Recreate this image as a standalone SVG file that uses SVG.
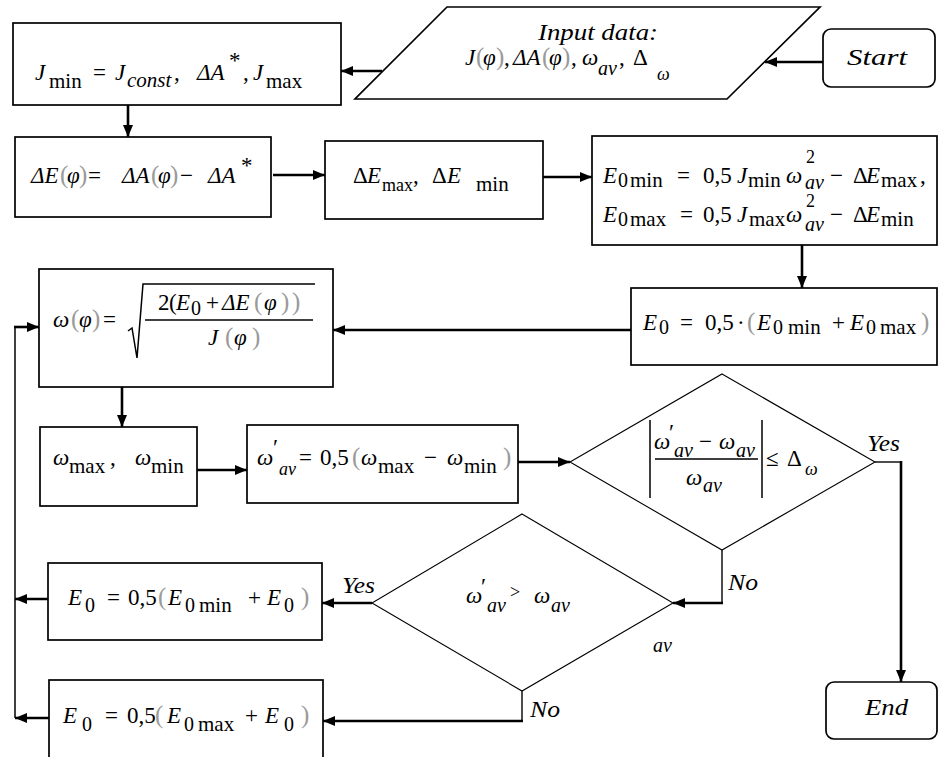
<svg xmlns="http://www.w3.org/2000/svg" width="940" height="757" viewBox="0 0 940 757">
<style>
.b{fill:#fff;stroke:#000;stroke-width:1.7}
.d{fill:#fff;stroke:#000;stroke-width:1.1}
.c{fill:none;stroke:#000;stroke-width:2.6}
.n{fill:none;stroke:#000;stroke-width:1.4}
.m{fill:none;stroke:#000;stroke-width:1.5}
.t{font-family:'Liberation Serif','Times New Roman',serif;font-size:23px;fill:#000}
.i{font-style:italic}
.s{font-size:20px}
.u{font-size:21px}
.z{font-size:18px}
.g{fill:#9a9a9a;font-size:25px}
</style>
<defs>
<marker id="a" viewBox="0 0 12 10" refX="12" refY="5" markerWidth="12" markerHeight="10" markerUnits="userSpaceOnUse" orient="auto"><path d="M0,0 L12,5 L0,10 z" fill="#000"/></marker>
</defs>
<rect width="940" height="757" fill="#fff"/>

<g id="connectors">
<path class="c" d="M382,71 H341" marker-end="url(#a)"/>
<path class="c" d="M823,62 H765" marker-end="url(#a)"/>
<path class="c" d="M128,105 V137" marker-end="url(#a)"/>
<path class="c" d="M273,175 H325" marker-end="url(#a)"/>
<path class="c" d="M543,177 H592" marker-end="url(#a)"/>
<path class="c" d="M802,245 V288" marker-end="url(#a)"/>
<path class="c" d="M631,330 H333" marker-end="url(#a)"/>
<path class="c" d="M122,387 V427" marker-end="url(#a)"/>
<path class="c" d="M197,470 H247" marker-end="url(#a)"/>
<path class="c" d="M518,462 H570" marker-end="url(#a)"/>
<path class="n" d="M875,462 H901"/>
<path class="c" d="M901,461 V682" marker-end="url(#a)"/>
<path class="n" d="M722,550 V603"/>
<path class="c" d="M723,603 H673" marker-end="url(#a)"/>
<path class="c" d="M372,603 H322" marker-end="url(#a)"/>
<path class="n" d="M522,691 V721"/>
<path class="c" d="M523,721 H323" marker-end="url(#a)"/>
<path class="c" d="M48,599 H15" marker-end="url(#a)"/>
<path class="c" d="M49,718 H15" marker-end="url(#a)"/>
<path class="m" d="M15,718 V327"/>
<path class="c" d="M14,327 H39" marker-end="url(#a)"/>
</g>

<g id="start">
<rect class="b" x="823" y="29" width="112" height="58" rx="8"/>
<text class="t i" x="847" y="65" textLength="60" lengthAdjust="spacingAndGlyphs">Start</text>
</g>

<g id="input">
<polygon class="b" points="447,7 820,7 727,99 355,99"/>
<text class="t i" x="538" y="40" textLength="120" lengthAdjust="spacingAndGlyphs">Input data:</text>
<text class="t"><tspan class="i" x="465" y="65">J</tspan><tspan class="g" x="476" y="65">(</tspan><tspan class="i" x="483" y="65">φ</tspan><tspan class="g" x="496" y="65">)</tspan><tspan x="504" y="65">,</tspan><tspan class="i" x="513" y="65">ΔA</tspan><tspan class="g" x="542" y="65">(</tspan><tspan class="i" x="549" y="65">φ</tspan><tspan class="g" x="562" y="65">)</tspan><tspan x="571" y="65">,</tspan><tspan class="i" x="582" y="65">ω</tspan><tspan class="i s" x="598" y="75">av</tspan><tspan x="619" y="65">,</tspan><tspan x="633" y="65">Δ</tspan><tspan class="i z" x="657" y="80">ω</tspan></text>
</g>

<g id="init">
<rect class="b" x="13" y="23" width="328" height="82"/>
<text class="t"><tspan class="i" x="35" y="80">J</tspan><tspan class="u" x="49" y="88">min</tspan><tspan x="93" y="80">=</tspan><tspan class="i" x="115" y="80">J</tspan><tspan class="i u" x="127" y="87">const</tspan><tspan x="174" y="80">,</tspan><tspan class="i" x="197" y="80">ΔA</tspan><tspan x="229" y="68">*</tspan><tspan x="243" y="80">,</tspan><tspan class="i" x="253" y="80">J</tspan><tspan class="u" x="266" y="88">max</tspan></text>
</g>

<g id="deltaE">
<rect class="b" x="15" y="137" width="256" height="80"/>
<text class="t"><tspan class="i" x="31" y="183">ΔE</tspan><tspan class="g" x="60" y="183">(</tspan><tspan class="i" x="67" y="183">φ</tspan><tspan class="g" x="79" y="183">)</tspan><tspan x="88" y="183">=</tspan><tspan class="i" x="122" y="183">ΔA</tspan><tspan class="g" x="151" y="183">(</tspan><tspan class="i" x="158" y="183">φ</tspan><tspan class="g" x="170" y="183">)</tspan><tspan x="180" y="183">−</tspan><tspan class="i" x="208" y="183">ΔA</tspan><tspan x="241" y="173">*</tspan></text>
</g>

<g id="extremes">
<rect class="b" x="325" y="141" width="218" height="78"/>
<text class="t"><tspan x="353" y="183">Δ</tspan><tspan class="i" x="367" y="183">E</tspan><tspan class="z" x="382" y="191">max</tspan><tspan x="413" y="183">,</tspan><tspan x="432" y="183">Δ</tspan><tspan class="i" x="447" y="183">E</tspan><tspan class="u" x="476" y="191">min</tspan></text>
</g>

<g id="e0bounds">
<rect class="b" x="592" y="136" width="345" height="109"/>
<text class="t"><tspan class="i" x="603" y="183">E</tspan><tspan class="s" x="618" y="187">0</tspan><tspan class="u" x="630" y="187">min</tspan><tspan x="677" y="183">=</tspan><tspan x="703" y="183">0,5</tspan><tspan class="i" x="737" y="183">J</tspan><tspan class="u" x="748" y="187">min</tspan><tspan class="i" x="786" y="183">ω</tspan><tspan class="z" x="806" y="163">2</tspan><tspan class="i s" x="805" y="189">av</tspan><tspan x="830" y="183">−</tspan><tspan x="853" y="183">Δ</tspan><tspan class="i" x="866" y="183">E</tspan><tspan class="u" x="881" y="187">max</tspan><tspan x="920" y="183">,</tspan></text>
<text class="t"><tspan class="i" x="603" y="222">E</tspan><tspan class="s" x="618" y="226">0</tspan><tspan class="u" x="630" y="226">max</tspan><tspan x="680" y="222">=</tspan><tspan x="703" y="222">0,5</tspan><tspan class="i" x="737" y="222">J</tspan><tspan class="u" x="749" y="226">max</tspan><tspan class="i" x="786" y="222">ω</tspan><tspan class="z" x="806" y="207">2</tspan><tspan class="i s" x="805" y="231">av</tspan><tspan x="830" y="222">−</tspan><tspan x="853" y="222">Δ</tspan><tspan class="i" x="866" y="222">E</tspan><tspan class="u" x="881" y="226">min</tspan></text>
</g>

<g id="e0">
<rect class="b" x="631" y="288" width="306" height="77"/>
<text class="t"><tspan class="i" x="643" y="330">E</tspan><tspan class="s" x="659" y="334">0</tspan><tspan x="680" y="330">=</tspan><tspan x="705" y="330">0,5</tspan><tspan x="737" y="330">·</tspan><tspan class="g" x="747" y="330">(</tspan><tspan class="i" x="757" y="330">E</tspan><tspan class="s" x="773" y="334">0</tspan><tspan class="u" x="788" y="334">min</tspan><tspan x="832" y="330">+</tspan><tspan class="i" x="850" y="330">E</tspan><tspan class="s" x="866" y="334">0</tspan><tspan class="u" x="880" y="334">max</tspan><tspan class="g" x="921" y="330">)</tspan></text>
</g>

<g id="omega">
<rect class="b" x="39" y="269" width="294" height="118"/>
<text class="t"><tspan class="i" x="53" y="327">ω</tspan><tspan class="g" x="71" y="327">(</tspan><tspan class="i" x="79" y="327">φ</tspan><tspan class="g" x="92" y="327">)</tspan><tspan x="103" y="327">=</tspan></text>
<path class="m" d="M128,331 L132,328 L137,358 L143,284 H315"/>
<text class="t"><tspan x="158" y="310">2</tspan><tspan x="169" y="310">(</tspan><tspan class="i" x="176" y="310">E</tspan><tspan class="s" x="191" y="315">0</tspan><tspan x="206" y="310">+</tspan><tspan class="i" x="222" y="310">ΔE</tspan><tspan class="g" x="254" y="310">(</tspan><tspan class="i" x="264" y="310">φ</tspan><tspan class="g" x="281" y="310">)</tspan><tspan class="g" x="292" y="310">)</tspan></text>
<path class="m" d="M145,320 H313"/>
<text class="t"><tspan class="i" x="208" y="345">J</tspan><tspan class="g" x="225" y="345">(</tspan><tspan class="i" x="234" y="345">φ</tspan><tspan class="g" x="252" y="345">)</tspan></text>
</g>

<g id="omegaext">
<rect class="b" x="40" y="427" width="157" height="79"/>
<text class="t"><tspan class="i" x="53" y="465">ω</tspan><tspan class="u" x="69" y="473">max</tspan><tspan x="110" y="465">,</tspan><tspan class="i" x="135" y="465">ω</tspan><tspan class="u" x="151" y="473">min</tspan></text>
</g>

<g id="omegaav">
<rect class="b" x="247" y="425" width="271" height="78"/>
<text class="t"><tspan class="i" x="257" y="465">ω</tspan><tspan x="273" y="455">′</tspan><tspan class="i z" x="279" y="475">av</tspan><tspan x="299" y="465">=</tspan><tspan x="320" y="465">0,5</tspan><tspan class="g" x="352" y="465">(</tspan><tspan class="i" x="361" y="465">ω</tspan><tspan class="u" x="378" y="473">max</tspan><tspan x="424" y="465">−</tspan><tspan class="i" x="447" y="465">ω</tspan><tspan class="u" x="464" y="473">min</tspan><tspan class="g" x="503" y="465">)</tspan></text>
</g>

<g id="check">
<polygon class="d" points="722,374 875,462 722,550 570,462"/>
<path class="m" d="M650,420 V498 M762,420 V498 M655,459 H758"/>
<text class="t"><tspan class="i" x="654" y="449">ω</tspan><tspan x="669" y="440">′</tspan><tspan class="i s" x="674" y="457">av</tspan><tspan x="699" y="449">−</tspan><tspan class="i" x="719" y="449">ω</tspan><tspan class="i s" x="736" y="457">av</tspan><tspan class="i" x="686" y="485">ω</tspan><tspan class="i s" x="703" y="492">av</tspan><tspan x="766" y="466">≤</tspan><tspan x="787" y="466">Δ</tspan><tspan class="i z" x="805" y="475">ω</tspan></text>
<text class="t i" x="867" y="451" textLength="33" lengthAdjust="spacingAndGlyphs">Yes</text>
<text class="t i" x="728" y="590" textLength="30" lengthAdjust="spacingAndGlyphs">No</text>
</g>

<g id="compare">
<polygon class="d" points="522,514 673,603 522,691 372,603"/>
<text class="t"><tspan class="i" x="466" y="603">ω</tspan><tspan x="481" y="594">′</tspan><tspan class="i s" x="487" y="612">av</tspan><tspan class="z" x="510" y="598">&gt;</tspan><tspan class="i" x="534" y="603">ω</tspan><tspan class="i s" x="551" y="612">av</tspan></text>
<text class="t i s" x="653" y="652">av</text>
<text class="t i" x="342" y="593" textLength="33" lengthAdjust="spacingAndGlyphs">Yes</text>
<text class="t i" x="530" y="717" textLength="30" lengthAdjust="spacingAndGlyphs">No</text>
</g>

<g id="e0min">
<rect class="b" x="48" y="563" width="274" height="77"/>
<text class="t"><tspan class="i" x="68" y="605">E</tspan><tspan class="s" x="85" y="612">0</tspan><tspan x="107" y="605">=</tspan><tspan x="128" y="605">0,5</tspan><tspan class="g" x="158" y="605">(</tspan><tspan class="i" x="168" y="605">E</tspan><tspan class="s" x="185" y="612">0</tspan><tspan class="u" x="199" y="612">min</tspan><tspan x="248" y="605">+</tspan><tspan class="i" x="267" y="605">E</tspan><tspan class="s" x="284" y="612">0</tspan><tspan class="g" x="301" y="605">)</tspan></text>
</g>

<g id="e0max">
<rect class="b" x="49" y="680" width="274" height="82"/>
<text class="t"><tspan class="i" x="63" y="723">E</tspan><tspan class="s" x="82" y="731">0</tspan><tspan x="105" y="723">=</tspan><tspan x="127" y="723">0,5</tspan><tspan class="g" x="155" y="723">(</tspan><tspan class="i" x="167" y="723">E</tspan><tspan class="s" x="184" y="731">0</tspan><tspan class="u" x="198" y="731">max</tspan><tspan x="245" y="723">+</tspan><tspan class="i" x="265" y="723">E</tspan><tspan class="s" x="284" y="731">0</tspan><tspan class="g" x="301" y="723">)</tspan></text>
</g>

<g id="end">
<rect class="b" x="826" y="682" width="111" height="57" rx="8"/>
<text class="t i" x="865" y="715" textLength="43" lengthAdjust="spacingAndGlyphs">End</text>
</g>
</svg>
